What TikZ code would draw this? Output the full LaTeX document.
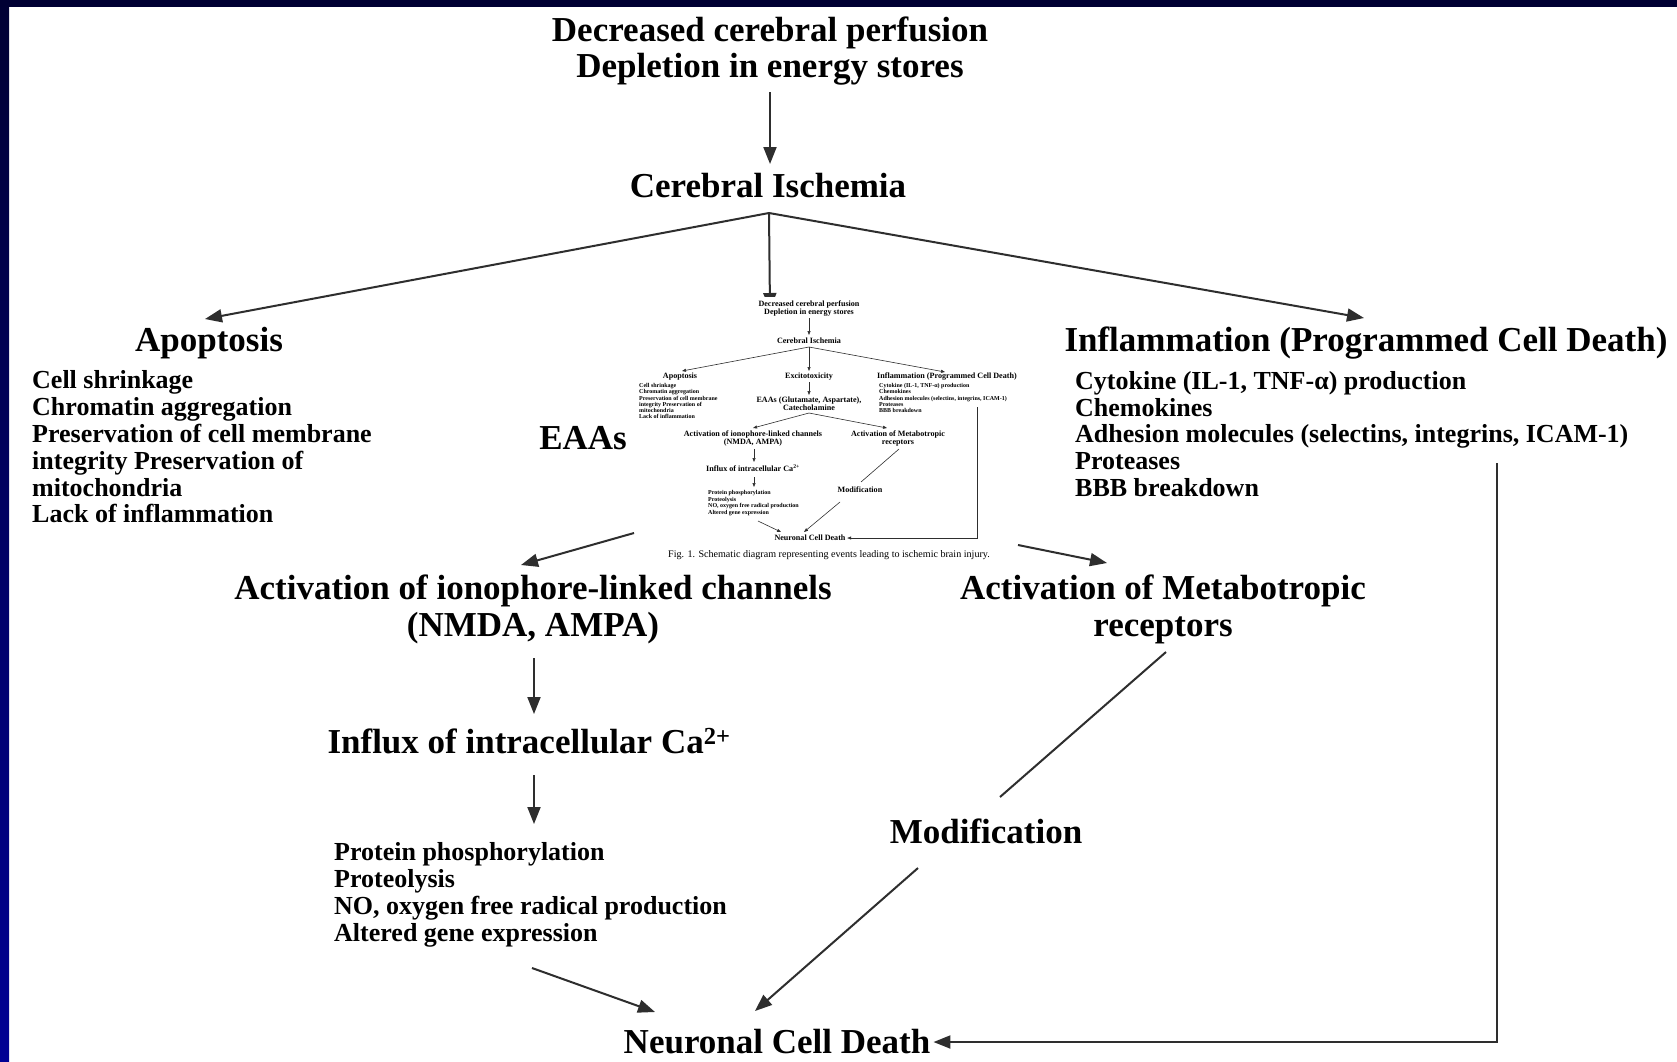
\documentclass[tikz,border=0pt]{standalone}
\usepackage{fontspec}
\setmainfont{Liberation Serif}
\usetikzlibrary{arrows.meta}
\definecolor{navyA}{HTML}{000033}
\definecolor{navyB}{HTML}{000094}
\definecolor{ln}{HTML}{2E2E2E}
\begin{document}
\begin{tikzpicture}[x=1pt,y=-1pt,
  big/.style={font=\fontsize{35}{35}\selectfont\bfseries, inner sep=0pt, align=center, text=black},
  lst/.style={font=\fontsize{26}{26.8}\selectfont\bfseries, inner sep=0pt, align=left, anchor=west, text=black},
  conn/.style={draw=ln, line width=2pt},
  arr/.style={conn, -{Triangle[length=17pt,width=13pt]}},
  ibig/.style={font=\fontsize{8.1}{8}\selectfont\bfseries, inner sep=0pt, align=center, text=black},
  ilst/.style={font=\fontsize{6}{6.1}\selectfont\bfseries, inner sep=0pt, align=left, anchor=west, text=black},
  icap/.style={font=\fontsize{10.1}{10.1}\selectfont, inner sep=0pt, text=black},
  iconn/.style={draw=ln, line width=0.6pt},
  iarr/.style={iconn, -{Triangle[length=4pt,width=3pt]}}]
\useasboundingbox (0,0) rectangle (1677,1061);
\fill[white] (0,0) rectangle (1677,1061);
\shade[top color=navyA, bottom color=navyB] (0,0) rectangle (9,1061);
\fill[navyA] (0,0) rectangle (1677,7);

% main nodes
\node[big, font=\fontsize{35}{36}\selectfont\bfseries] (top) at (770,51) {Decreased cerebral perfusion\\Depletion in energy stores};
\node[big] (ci) at (768,186) {Cerebral Ischemia};
\node[big] (apo) at (209,343) {Apoptosis};
\node[big] (infl) at (1366,343) {Inflammation (Programmed Cell Death)};
\node[big] (eaas) at (583,438) {EAAs};
\node[big, font=\fontsize{35}{37}\selectfont\bfseries] (act) at (533,609) {Activation of ionophore-linked channels\\(NMDA, AMPA)};
\node[big, font=\fontsize{35}{37}\selectfont\bfseries] (met) at (1163,609) {Activation of Metabotropic\\receptors};
\node[big] (influx) at (529,741) {Influx of intracellular Ca\textsuperscript{2+}};
\node[big] (mod) at (986,831) {Modification};
\node[big] (ncd) at (777,1042) {Neuronal Cell Death};
\node[lst] (apol) at (32,447) {Cell shrinkage\\Chromatin aggregation\\Preservation of cell membrane\\integrity Preservation of\\mitochondria\\Lack of inflammation};
\node[lst] (infll) at (1075,434) {Cytokine (IL-1, TNF-α) production\\Chemokines\\Adhesion molecules (selectins, integrins, ICAM-1)\\Proteases\\BBB breakdown};
\node[lst, font=\fontsize{26}{27.2}\selectfont\bfseries] (protl) at (334,895) {Protein phosphorylation\\Proteolysis\\NO, oxygen free radical production\\Altered gene expression};

% main connectors
\coordinate (cib) at (769,213);
\coordinate (insetTop) at (770,310);
\coordinate (inflR) at (1497,463);
\draw[arr] (770,92) -- (770,164);
\draw[arr] (cib) -- (205,319);
\draw[arr] (cib) -- (1364,318);
\draw[arr] (cib) -- (insetTop);

% inset (scaled original figure)
\fill[white] (636,297) rectangle (1016,565);
\node[ibig] (iTop) at (809,309) {Decreased cerebral perfusion\\Depletion in energy stores};
\node[ibig] (iCI) at (809,341) {Cerebral Ischemia};
\node[ibig] (iApo) at (680,377) {Apoptosis};
\node[ibig] (iExc) at (809,377) {Excitotoxicity};
\node[ibig] (iInf) at (947,377) {Inflammation (Programmed Cell Death)};
\node[ilst] (iApoL) at (639,401) {Cell shrinkage\\Chromatin aggregation\\Preservation of cell membrane\\integrity Preservation of\\mitochondria\\Lack of inflammation};
\node[ilst] (iInfL) at (879,398) {Cytokine (IL-1, TNF-α) production\\Chemokines\\Adhesion molecules (selectins, integrins, ICAM-1)\\Proteases\\BBB breakdown};
\node[ibig, font=\fontsize{8.1}{6.5}\selectfont\bfseries] (iEAA) at (809,404) {EAAs (Glutamate, Aspartate),\\Catecholamine};
\node[ibig] (iAct) at (753,438) {Activation of ionophore-linked channels\\(NMDA, AMPA)};
\node[ibig] (iMet) at (898,438) {Activation of Metabotropic\\receptors};
\node[ibig] (iInflux) at (753,468) {Influx of intracellular Ca\textsuperscript{2+}};
\node[ilst, font=\fontsize{6}{6.7}\selectfont\bfseries] (iProL) at (708,503) {Protein phosphorylation\\Proteolysis\\NO, oxygen free radical production\\Altered gene expression};
\node[ibig] (iMod) at (860,490) {Modification};
\node[ibig] (iNCD) at (810,538) {Neuronal Cell Death};
\node[icap] (iCap) at (829,555) {Fig. 1. Schematic diagram representing events leading to ischemic brain injury.};
\coordinate (iB1) at (809,347);
\coordinate (iB2) at (809,413);
\coordinate (iInfR) at (977,407);
\draw[iarr] (809,318) -- (809,335);
\draw[iarr] (iB1) -- (682,371);
\draw[iarr] (iB1) -- (809,371);
\draw[iarr] (iB1) -- (945,372);
\draw[iarr] (809,382) -- (809,395);
\draw[iarr] (iB2) -- (753,428);
\draw[iarr] (iB2) -- (887,428);
\draw[iarr] (754,449) -- (754,462);
\draw[iarr] (754,477) -- (754,487);
\draw[iconn] (899,449) -- (861,482);
\draw[iarr] (758,521) -- (781,532);
\draw[iarr] (840,502) -- (804,532);
\draw[iarr] (iInfR) |- ([xshift=1.5pt]iNCD.east);

% lower main connectors
\draw[arr] (634,533) -- (521,565);
\draw[arr] (1018,545) -- (1107,563);
\draw[arr] (534,658) -- (534,714);
\draw[arr] (534,775) -- (534,824);
\draw[conn] (1166,652) -- (1000,797);
\draw[arr] (532,968) -- (655,1012);
\draw[arr] (918,868) -- (755,1011);
\draw[arr] (inflR) |- ([xshift=3pt]ncd.east);
\end{tikzpicture}
\end{document}
